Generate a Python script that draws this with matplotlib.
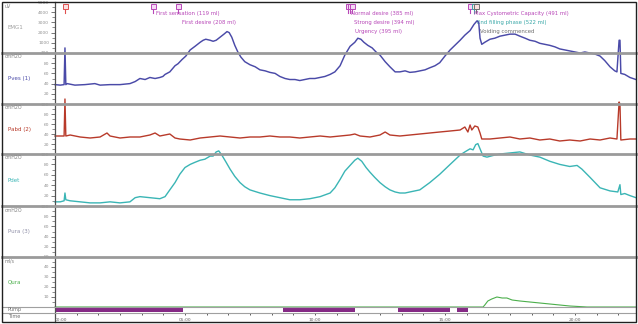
import matplotlib
matplotlib.use("Agg")
import matplotlib.pyplot as plt
import matplotlib.transforms as mtransforms
from matplotlib.lines import Line2D
from matplotlib.patches import Rectangle

# ---------------- data ----------------
duration_s = 1341

pves_t = [0, 12, 21, 23, 25, 28, 46, 69, 92, 104, 127, 150, 173, 185, 196, 208, 219, 231, 242, 249,
          254, 265, 277, 284, 293, 302, 312, 323, 335, 342, 348, 358, 365, 372, 381, 390, 397, 402,
          408, 415, 422, 429, 438, 450, 462, 473, 485, 496, 508, 519, 531, 542, 554, 565, 577, 588,
          600, 612, 623, 635, 646, 658, 669, 681, 692, 699, 706, 713, 722, 732, 741, 750, 762, 773,
          785, 796, 808, 819, 831, 842, 854, 865, 877, 888, 900, 912, 923, 935, 946, 958, 967, 974,
          978, 981, 985, 992, 1004, 1015, 1027, 1038, 1050, 1062, 1073, 1085, 1096, 1108, 1119, 1131,
          1142, 1154, 1165, 1177, 1188, 1200, 1212, 1223, 1235, 1246, 1258, 1269, 1281, 1292, 1297,
          1302, 1304, 1306, 1315, 1327, 1341]
pves_v = [38, 37, 38, 110, 38, 40, 37, 38, 40, 37, 38, 38, 40, 44, 50, 48, 52, 50, 52, 54,
          58, 63, 75, 79, 87, 94, 106, 113, 121, 125, 127, 125, 123, 125, 131, 137, 142, 140,
          131, 115, 102, 92, 83, 77, 73, 67, 65, 62, 60, 54, 50, 48, 48, 46, 48, 50,
          50, 52, 54, 58, 63, 75, 96, 113, 121, 129, 127, 121, 115, 110, 102, 96, 83, 73,
          63, 63, 65, 62, 63, 65, 67, 71, 75, 81, 94, 106, 115, 125, 135, 144, 156, 163,
          160, 129, 117, 121, 127, 129, 133, 135, 137, 137, 133, 129, 125, 123, 119, 117,
          115, 112, 108, 106, 104, 102, 100, 102, 100, 98, 94, 85, 73, 65, 63,
          125, 125, 60, 58, 52, 48]

pabd_t = [0, 12, 21, 23, 25, 35, 58, 81, 104, 120, 127, 150, 173, 196, 219, 231, 242, 265, 277, 288,
          312, 335, 358, 381, 404, 427, 450, 473, 496, 519, 542, 565, 588, 612, 635, 658, 681, 692,
          704, 727, 750, 762, 773, 796, 819, 842, 865, 888, 912, 935, 946, 953, 958, 962, 969, 976,
          981, 985, 1004, 1027, 1050, 1073, 1096, 1119, 1142, 1165, 1188, 1212, 1235, 1258, 1281,
          1297, 1302, 1304, 1306, 1327, 1341]
pabd_v = [36, 36, 36, 110, 36, 38, 34, 32, 34, 42, 36, 32, 34, 34, 38, 42, 36, 40, 32, 30,
          28, 32, 34, 36, 34, 32, 34, 34, 36, 34, 34, 32, 34, 36, 34, 36, 38, 40,
          36, 34, 38, 44, 38, 36, 38, 40, 42, 44, 46, 48, 54, 44, 58, 48, 56, 54,
          42, 30, 30, 32, 34, 30, 32, 28, 30, 26, 28, 26, 30, 28, 32,
          30, 104, 100, 28, 30, 30]

pdet_t = [0, 12, 21, 23, 25, 35, 58, 81, 104, 127, 150, 173, 185, 196, 219, 242, 254, 265, 277, 288,
          300, 312, 323, 335, 346, 358, 365, 372, 378, 385, 395, 404, 415, 427, 438, 450, 473, 496,
          519, 542, 565, 588, 612, 635, 646, 658, 669, 681, 692, 699, 708, 718, 727, 738, 750, 762,
          773, 785, 796, 808, 819, 842, 865, 888, 912, 935, 946, 958, 965, 971, 976, 981, 988, 997,
          1015, 1027, 1050, 1073, 1096, 1119, 1142, 1165, 1188, 1205, 1216, 1235, 1258, 1281, 1299,
          1304, 1306, 1315, 1327, 1341]
pdet_v = [8, 8, 10, 25, 12, 10, 8, 6, 6, 8, 6, 8, 16, 18, 16, 14, 18, 31, 45, 61,
          74, 80, 84, 88, 90, 96, 96, 104, 106, 98, 84, 71, 57, 45, 37, 31, 25, 20,
          16, 12, 12, 14, 18, 25, 35, 51, 67, 78, 88, 92, 86, 74, 65, 55, 45, 37,
          31, 27, 25, 25, 27, 31, 45, 61, 80, 98, 104, 110, 108, 118, 120, 110, 96, 94,
          98, 100, 102, 104, 98, 94, 86, 80, 76, 78, 71, 55, 35, 29, 27,
          41, 22, 24, 20, 16]

qura_t = [0, 988, 992, 999, 1008, 1020, 1032, 1043, 1055, 1073, 1096, 1119, 1142, 1165, 1188, 1228, 1341]
qura_v = [0, 0, 2, 6, 8, 10, 9, 9, 7, 6, 5, 4, 3, 2, 1, 0, 0]

pump_start = [0, 526, 792, 928]
pump_end = [295, 692, 912, 953]

event_t = [23, 226, 284, 676, 681, 685, 958, 966, 972]
event_label = ["", "First sensation (119 ml)", "First desire (208 ml)",
               "Normal desire (385 ml)", "Strong desire (394 ml)", "Urgency (395 ml)",
               "Max Cystometric Capacity (491 ml)", "End filling phase (522 ml)",
               "Voiding commenced"]
event_row = [0, 0, 1, 0, 1, 2, 0, 1, 2]
event_kind = ["start", "sens", "sens", "sens", "sens", "sens", "sens", "end", "void"]

channel_names = ["EMG1", "Pves (1)", "Pabd (2)", "Pdet", "Pura (3)", "Qura"]
channel_units = ["uV", "cmH2O", "cmH2O", "cmH2O", "cmH2O", "ml/s"]
channel_max = [5000, 100, 100, 100, 100, 50]
channel_step = [1000, 20, 20, 20, 20, 10]

time_minor_s = list(range(0, 1341, 50))
time_tick_s = [0, 300, 600, 900, 1200]
time_tick_labels = ["00:00", "05:00", "10:00", "15:00", "20:00"]

# ---------------- styling ----------------
W, H = 638, 324
X0, X1 = 55, 636
bands = [(2, 53), (53, 104), (104, 154), (154, 206), (206, 257), (257, 307)]
name_colors = ["#a0a0a0", "#4a4aa8", "#b83a2a", "#3ab5b5", "#9090a8", "#4caf4c"]
kind_colors = {"start": "#e05050", "sens": "#b848b8", "end": "#3aa8a8", "void": "#707070"}

fig = plt.figure(figsize=(W / 100, H / 100), dpi=100)
fig.patch.set_facecolor("white")


def px_ax(y1, y2):
    ax = fig.add_axes([X0 / W, 1 - y2 / H, (X1 - X0) / W, (y2 - y1) / H])
    ax.set_xlim(0, duration_s)
    ax.patch.set_alpha(0)
    for s in ["top", "right", "bottom"]:
        ax.spines[s].set_visible(False)
    ax.spines["left"].set_color("#505050")
    ax.spines["left"].set_linewidth(0.9)
    ax.set_xticks([])
    return ax


def ftxt(x, y, s, **kw):
    fig.text(x / W, 1 - y / H, s, **kw)


axes = []
for i, (y1, y2) in enumerate(bands):
    ax = px_ax(y1, y2)
    ax.set_ylim(0, channel_max[i])
    st = channel_step[i]
    ax.set_yticks(list(range(st, channel_max[i] + 1, st)))
    ax.set_yticks(list(range(st // 2, channel_max[i], st)), minor=True)
    ax.tick_params(axis="y", which="major", length=3.2, width=0.6, color="#606060",
                   labelsize=3.2, labelcolor="#909090", pad=1)
    ax.tick_params(axis="y", which="minor", length=2.0, width=0.5, color="#606060")
    axes.append(ax)
    ftxt(8, (y1 + y2) / 2, channel_names[i], fontsize=4, color=name_colors[i], va="center")
    uy = y1 + 4 if i > 0 else 6
    ftxt(5, uy, channel_units[i], fontsize=3.4, color="#808080", va="center")

ax_emg, ax_pves, ax_pabd, ax_pdet, ax_pura, ax_qura = axes

ax_pves.plot(pves_t, pves_v, color="#4a4aa8", lw=1.05, clip_on=False)
ax_pabd.plot(pabd_t, pabd_v, color="#b83a2a", lw=1.0, clip_on=False)
ax_pdet.plot(pdet_t, pdet_v, color="#3ab5b5", lw=1.0, clip_on=False)
ax_qura.plot(qura_t, qura_v, color="#4caf4c", lw=0.8, clip_on=False)

# pump row
ax_pump = px_ax(307, 313)
ax_pump.set_ylim(0, 1)
ax_pump.set_yticks([])
ax_pump.broken_barh([(s, e - s) for s, e in zip(pump_start, pump_end)], (0.1, 0.9),
                    facecolors="#852a85", edgecolor="none")
ftxt(8, 309, "Pump", fontsize=3.6, color="#707070", va="center")

# time row
ax_time = px_ax(313, 322)
ax_time.set_ylim(0, 1)
ax_time.set_yticks([])
ax_time.xaxis.set_ticks_position("top")
ax_time.set_xticks(time_minor_s)
ax_time.set_xticklabels([])
ax_time.tick_params(axis="x", direction="in", length=1.6, width=0.6, color="#404040")
for t, lab in zip(time_tick_s, time_tick_labels):
    ax_time.text(t, 0.22, lab, fontsize=3.2, color="#606060", ha="center" if t > 0 else "left",
                 va="center")
ftxt(8, 317, "Time", fontsize=3.6, color="#707070", va="center")

# events
trans = mtransforms.blended_transform_factory(ax_emg.transData, ax_emg.transAxes)
row_y = [(53 - 14) / 51, (53 - 22.5) / 51, (53 - 31) / 51]
for t, lab, r, k in zip(event_t, event_label, event_row, event_kind):
    c = kind_colors[k]
    ax_emg.plot([t, t], [(53 - 9) / 51, (53 - 13) / 51], color=c, lw=0.8,
                transform=trans, clip_on=False)
    ax_emg.plot([t], [(53 - 6) / 51], marker="s", ms=3.6, mfc="#f4d8f4" if k == "sens" else "#fbe0e0",
                mec=c, mew=0.7, transform=trans, clip_on=False)
    if lab:
        off = mtransforms.offset_copy(trans, fig=fig, x=3.5, y=0, units="dots")
        ax_emg.text(t, row_y[r], lab, fontsize=3.9, color=c, va="center", ha="left",
                    transform=off)

# separators
for y in [53, 104, 154, 206, 257]:
    fig.add_artist(Line2D([2 / W, 636 / W], [1 - y / H, 1 - y / H], color="#9a9a9a",
                          lw=2.0, transform=fig.transFigure, zorder=0.5))
for y in [307, 313]:
    fig.add_artist(Line2D([2 / W, 636 / W], [1 - y / H, 1 - y / H], color="#a0a0a0",
                          lw=0.8, transform=fig.transFigure, zorder=0.5))

fig.add_artist(Rectangle((2 / W, 2 / H), 634 / W, 320 / H, fill=False, ec="#202020",
                         lw=1.0, transform=fig.transFigure))

fig.savefig("out.png", dpi=100, facecolor="white")
